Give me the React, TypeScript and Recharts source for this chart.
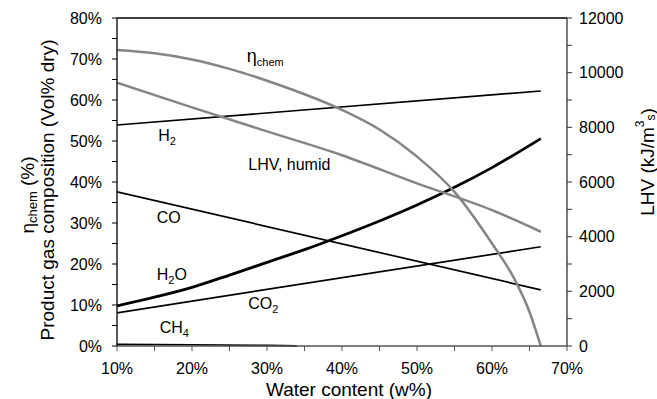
import React from 'react';
import { LineChart, Line, XAxis, YAxis, ReferenceLine, ReferenceDot } from 'recharts';

const FONT = '"Liberation Sans", Arial, Helvetica, sans-serif';

// axis ticks
const waterTicks = [10, 15, 20, 25, 30, 35, 40, 45, 50, 55, 60, 65, 70];
const leftTicks = [0, 5, 10, 15, 20, 25, 30, 35, 40, 45, 50, 55, 60, 65, 70, 75, 80];
const rightTicks = [0, 1000, 2000, 3000, 4000, 5000, 6000, 7000, 8000, 9000, 10000, 11000, 12000];

// series (x = water content w%, values in Vol% / % / kJ/m3)
const etaX = [10, 15, 20, 25, 30, 35, 40, 45, 50, 55, 60, 63, 65, 66.5];
const etaChem = [72.2, 71.4, 69.9, 67.6, 64.7, 61.4, 57.6, 52.8, 46.2, 37.6, 25.0, 16.3, 8.3, 0];

const lhvX = [10, 20, 30, 40, 50, 60, 66.5];
const lhvHumid = [9630, 8730, 7850, 6980, 5950, 4970, 4180];

const lineX = [10, 66.5];
const h2 = [53.9, 62.2];
const co = [37.6, 13.7];
const co2 = [8.1, 24.2];

const h2oX = [10, 15, 20, 25, 30, 35, 40, 45, 50, 55, 60, 66.5];
const h2o = [9.8, 11.9, 14.3, 17.3, 20.4, 23.5, 26.9, 30.5, 34.4, 38.7, 43.5, 50.6];

const ch4X = [10, 20, 30, 34];
const ch4 = [0.4, 0.3, 0.15, 0.05];

const zip = (xs: number[], ys: number[]) => xs.map((x, i) => ({ x, y: ys[i] }));

const GRAY = '#858585';

const annot = (content: (x: number, y: number) => React.ReactNode) => (p: any) => (
  <g>{content(p.cx, p.cy)}</g>
);

const txt = (children: React.ReactNode) =>
  annot((x, y) => (
    <text x={x} y={y} fontFamily={FONT} fontSize={16} fill="#000" textAnchor="start">
      {children}
    </text>
  ));

const LeftTitle = (props: any) => {
  const vb = props.viewBox || { x: 0, y: 18, width: 117, height: 328 };
  const cy1 = vb.y + vb.height / 2 + 8;
  const cx1 = vb.x + 47;
  const cy2 = vb.y + vb.height / 2 + 13;
  const cx2 = vb.x + 27;
  return (
    <g>
      <text x={cx1} y={cy1} transform={`rotate(-90, ${cx1}, ${cy1})`} textAnchor="middle" dominantBaseline="central" fontFamily={FONT} fontSize={19} fill="#000">
        Product gas composition (Vol% dry)
      </text>
      <text x={cx2} y={cy2} transform={`rotate(-90, ${cx2}, ${cy2})`} textAnchor="middle" dominantBaseline="central" fontFamily={FONT} fontSize={19} fill="#000">
        η<tspan dy={5} fontSize={13}>chem</tspan><tspan dy={-5}> (%)</tspan>
      </text>
    </g>
  );
};

const RightTitle = (props: any) => {
  const vb = props.viewBox || { x: 567, y: 18, width: 90, height: 328 };
  const cx = vb.x + 80;
  const cy = vb.y + vb.height / 2 - 20;
  return (
    <text x={cx} y={cy} transform={`rotate(-90, ${cx}, ${cy})`} textAnchor="middle" dominantBaseline="central" fontFamily={FONT} fontSize={19} fill="#000">
      LHV (kJ/m<tspan dy={-7} fontSize={12}>3</tspan><tspan dy={11} fontSize={12}>s</tspan><tspan dy={-4}>)</tspan>
    </text>
  );
};

const BottomTitle = (props: any) => {
  const vb = props.viewBox || { x: 117, y: 346, width: 450, height: 53 };
  const cx = vb.x + vb.width / 2 + 7;
  const cy = vb.y + 50;
  return (
    <text x={cx} y={cy} textAnchor="middle" fontFamily={FONT} fontSize={19} fill="#000">
      Water content (w%)
    </text>
  );
};

const tickStyle = { fontSize: 16, fill: '#000', fontFamily: FONT };

export default function App() {
  return (
    <div style={{ position: 'absolute', left: 0, top: 0, background: '#fff' }}>
      <LineChart width={657} height={399} margin={{ top: 18, right: 0, bottom: 0, left: 0 }}>
        <XAxis
          dataKey="x"
          type="number"
          domain={[10, 70]}
          ticks={waterTicks}
          allowDataOverflow
          height={53}
          tickSize={5}
          tickMargin={12}
          tick={tickStyle}
          tickFormatter={(v: number) => (v % 10 === 0 ? `${v}%` : '')}
          stroke="#555"
          axisLine={{ stroke: '#555', strokeWidth: 1.3 }}
          tickLine={{ stroke: '#555' }}
          label={{ content: BottomTitle }}
        />
        <YAxis
          yAxisId="left"
          type="number"
          domain={[0, 80]}
          ticks={leftTicks}
          width={117}
          tickSize={5}
          tickMargin={10}
          tick={tickStyle}
          tickFormatter={(v: number) => (v % 10 === 0 ? `${v}%` : '')}
          axisLine={{ stroke: '#000', strokeWidth: 1.3 }}
          tickLine={{ stroke: '#000' }}
          label={{ content: LeftTitle }}
        />
        <YAxis
          yAxisId="right"
          orientation="right"
          type="number"
          domain={[0, 12000]}
          ticks={rightTicks}
          width={90}
          tickSize={5}
          tickMargin={7}
          tick={tickStyle}
          tickFormatter={(v: number) => (v % 2000 === 0 ? `${v}` : '')}
          axisLine={{ stroke: '#333', strokeWidth: 1.3 }}
          tickLine={{ stroke: '#333' }}
          label={{ content: RightTitle }}
        />
        <ReferenceLine yAxisId="left" y={80} stroke="#000" strokeWidth={1.3} />

        <Line yAxisId="left" data={zip(lineX, h2)} dataKey="y" type="linear" stroke="#000" strokeWidth={1.7} dot={false} isAnimationActive={false} />
        <Line yAxisId="left" data={zip(lineX, co)} dataKey="y" type="linear" stroke="#000" strokeWidth={1.7} dot={false} isAnimationActive={false} />
        <Line yAxisId="left" data={zip(lineX, co2)} dataKey="y" type="linear" stroke="#000" strokeWidth={1.7} dot={false} isAnimationActive={false} />
        <Line yAxisId="left" data={zip(ch4X, ch4)} dataKey="y" type="linear" stroke="#000" strokeWidth={1.7} dot={false} isAnimationActive={false} />
        <Line yAxisId="left" data={zip(h2oX, h2o)} dataKey="y" type="monotone" stroke="#000" strokeWidth={2.8} dot={false} isAnimationActive={false} />
        <Line yAxisId="right" data={zip(lhvX, lhvHumid)} dataKey="y" type="monotone" stroke={GRAY} strokeWidth={2.5} dot={false} isAnimationActive={false} />
        <Line yAxisId="left" data={zip(etaX, etaChem)} dataKey="y" type="monotone" stroke={GRAY} strokeWidth={2.5} dot={false} isAnimationActive={false} />

        <ReferenceDot yAxisId="left" x={27.3} y={69.3} r={0} shape={annot((x, y) => (
          <text x={x} y={y} fontFamily={FONT} fontSize={18} fill="#000">
            η<tspan dy={4} fontSize={11}>chem</tspan>
          </text>
        ))} />
        <ReferenceDot yAxisId="left" x={15.5} y={50.0} r={0} shape={txt(<>H<tspan dy={4} fontSize={11}>2</tspan></>)} />
        <ReferenceDot yAxisId="left" x={27.5} y={42.9} r={0} shape={txt('LHV, humid')} />
        <ReferenceDot yAxisId="left" x={15.3} y={30.0} r={0} shape={txt('CO')} />
        <ReferenceDot yAxisId="left" x={15.3} y={16.1} r={0} shape={txt(<>H<tspan dy={4} fontSize={11}>2</tspan><tspan dy={-4}>O</tspan></>)} />
        <ReferenceDot yAxisId="left" x={27.5} y={9.0} r={0} shape={txt(<>CO<tspan dy={4} fontSize={11}>2</tspan></>)} />
        <ReferenceDot yAxisId="left" x={15.7} y={3.2} r={0} shape={txt(<>CH<tspan dy={4} fontSize={11}>4</tspan></>)} />
      </LineChart>
    </div>
  );
}
